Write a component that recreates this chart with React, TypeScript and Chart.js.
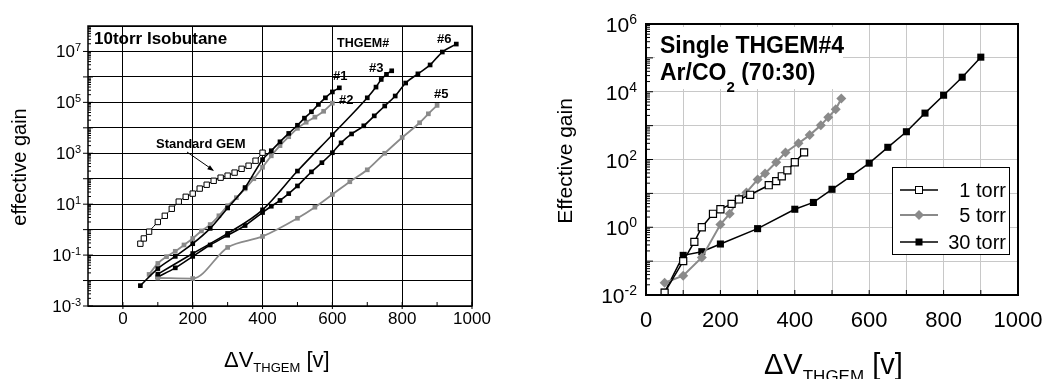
import React, { useEffect, useRef } from "react";
import { Chart, registerables } from "chart.js";
Chart.register(...registerables);

const FONT = '"Liberation Sans", Arial, Helvetica, sans-serif';

// ---------- Left panel (10 torr isobutane) ----------
const gemV = [50, 60, 75, 100, 120, 140, 160, 180, 200, 220, 240, 260, 280, 300, 320, 340, 360, 380, 400];
const gemGain = [0.28, 0.45, 0.83, 2.0, 3.5, 6.6, 12.6, 19.5, 26, 41, 58, 83, 110, 132, 174, 245, 324, 510, 1050];

const th1V = [50, 100, 150, 200, 250, 300, 350, 400, 425, 450, 475, 500, 520, 540, 560, 580, 600, 620];
const th1Gain = [0.0063, 0.0295, 0.089, 0.28, 1.12, 7.1, 45, 562, 1260, 2820, 6030, 12600, 24000, 42700, 83000, 151000, 257000, 372000];

const th2V = [75, 100, 125, 150, 175, 200, 225, 250, 275, 300, 325, 350, 375, 400, 425, 450, 475, 500, 525, 550, 575, 600];
const th2Gain = [0.0174, 0.047, 0.087, 0.141, 0.25, 0.45, 0.89, 1.58, 3.5, 8.7, 18, 40, 100, 282, 794, 2000, 4470, 9550, 16600, 26300, 44700, 93000];

const th3V = [100, 200, 300, 400, 500, 600, 700, 725, 740, 755, 770];
const th3Gain = [0.0178, 0.115, 0.71, 6.0, 200, 5370, 151000, 398000, 794000, 1260000, 1740000];

const th5V = [100, 200, 300, 400, 500, 550, 600, 650, 700, 750, 800, 850, 875, 900];
const th5Gain = [0.0126, 0.012, 0.2, 0.54, 2.8, 7.6, 24, 76, 224, 1000, 4170, 15800, 35500, 76000];

const th6V = [100, 150, 200, 250, 300, 350, 400, 425, 450, 475, 500, 540, 570, 600, 625, 655, 690, 720, 750, 780, 810, 845, 880, 915, 955];
const th6Gain = [0.014, 0.0316, 0.089, 0.25, 0.6, 1.45, 4.7, 8.3, 14, 26, 52, 186, 427, 1050, 2570, 5750, 12000, 29500, 72000, 178000, 575000, 1320000, 2950000, 9500000, 19500000];

const leftXTicks = [0, 200, 400, 600, 800, 1000];
const leftXMinor = [100, 300, 500, 700, 900];
const leftYGrid = [1e-3, 1e-2, 1e-1, 1, 1e1, 1e2, 1e3, 1e4, 1e5, 1e6, 1e7, 1e8];
const leftYLabelVals = [1e-3, 1e-1, 1e1, 1e3, 1e5, 1e7];
const leftYLabelExps = ["-3", "-1", "1", "3", "5", "7"];
const leftSeriesLabels = ["#1", "#2", "#3", "#5", "#6"];

// ---------- Right panel (Single THGEM#4, Ar/CO2) ----------
const t1V = [50, 100, 130, 150, 180, 200, 230, 250, 280, 330, 350, 365, 380, 400, 425];
const t1Gain = [0.0117, 0.1, 0.37, 1.0, 2.5, 3.4, 4.9, 6.6, 9.1, 17.4, 23, 32, 48, 83, 162];

const t5V = [50, 100, 150, 200, 225, 250, 270, 300, 320, 350, 375, 410, 440, 470, 490, 510, 525];
const t5Gain = [0.023, 0.037, 0.129, 1.2, 2.5, 7.1, 10.7, 25.7, 38.9, 83, 162, 302, 525, 1020, 1780, 3020, 6300];

const t30V = [50, 100, 150, 200, 300, 400, 450, 500, 550, 600, 650, 700, 750, 800, 850, 900];
const t30Gain = [0.012, 0.148, 0.19, 0.32, 0.91, 3.4, 5.4, 13.2, 31.6, 78, 229, 660, 2340, 7900, 26900, 105000];

const rightXTicks = [0, 200, 400, 600, 800, 1000];
const rightXGrid = [0, 100, 200, 300, 400, 500, 600, 700, 800, 900, 1000];
const rightYGrid = [1e-2, 1e-1, 1, 1e1, 1e2, 1e3, 1e4, 1e5, 1e6];
const rightYLabelVals = [1e-2, 1, 1e2, 1e4, 1e6];
const rightYLabelExps = ["-2", "0", "2", "4", "6"];
const rightLegend = ["1 torr", "5 torr", "30 torr"];

const GRAY = "#8a8a8a";

type Part = { t: string; s: number; b?: boolean; dy?: number };

function rich(ctx: CanvasRenderingContext2D, x: number, y: number, parts: Part[], align: "left" | "right" | "center" = "left") {
  let total = 0;
  const widths = parts.map((p) => {
    ctx.font = `${p.b ? "bold " : ""}${p.s}px ${FONT}`;
    const w = ctx.measureText(p.t).width;
    total += w;
    return w;
  });
  let cx = align === "right" ? x - total : align === "center" ? x - total / 2 : x;
  ctx.textAlign = "left";
  ctx.textBaseline = "alphabetic";
  parts.forEach((p, i) => {
    ctx.font = `${p.b ? "bold " : ""}${p.s}px ${FONT}`;
    ctx.fillText(p.t, cx, y + (p.dy || 0));
    cx += widths[i];
  });
}

const pts = (xs: number[], ys: number[]) => xs.map((x, i) => ({ x, y: ys[i] }));

function setTicks(vals: number[]) {
  return (s: any) => {
    s.ticks = vals.map((v) => ({ value: v }));
  };
}

function LeftChart() {
  const ref = useRef<HTMLCanvasElement>(null);
  useEffect(() => {
    const W = 520, H = 379;
    const area = { left: 88, right: 472, top: 26, bottom: 306 };
    const blackSeries = (label: string, xs: number[], ys: number[]) => ({
      label, data: pts(xs, ys), borderColor: "#000", backgroundColor: "#000", borderWidth: 1.6,
      pointStyle: "rect", pointRadius: 3.3, pointBackgroundColor: "#000", pointBorderColor: "#000", pointBorderWidth: 0,
      cubicInterpolationMode: "monotone",
    });
    const graySeries = (label: string, xs: number[], ys: number[]) => ({
      label, data: pts(xs, ys), borderColor: GRAY, backgroundColor: GRAY, borderWidth: 1.8,
      pointStyle: "rect", pointRadius: 3.3, pointBackgroundColor: GRAY, pointBorderColor: GRAY, pointBorderWidth: 0,
      cubicInterpolationMode: "monotone",
    });
    const overlay = {
      id: "leftOverlay",
      afterDraw(chart: any) {
        const ctx: CanvasRenderingContext2D = chart.ctx;
        const xs = chart.scales.x, ys = chart.scales.y;
        const ca = chart.chartArea;
        ctx.save();
        ctx.strokeStyle = "#000";
        ctx.lineWidth = 1.5;
        ctx.strokeRect(ca.left, ca.top, ca.right - ca.left, ca.bottom - ca.top);
        ctx.lineWidth = 1;
        for (let d = -3; d < 8; d++) {
          const yy = ys.getPixelForValue(Math.pow(10, d));
          ctx.beginPath(); ctx.moveTo(ca.left - 5, yy); ctx.lineTo(ca.left + 5, yy); ctx.stroke();
          for (let m = 2; m <= 9; m++) {
            const y2 = ys.getPixelForValue(m * Math.pow(10, d));
            ctx.beginPath(); ctx.moveTo(ca.left, y2); ctx.lineTo(ca.left + 3, y2); ctx.stroke();
          }
        }
        leftXTicks.forEach((v) => {
          const xx = xs.getPixelForValue(v);
          ctx.beginPath(); ctx.moveTo(xx, ca.bottom - 4); ctx.lineTo(xx, ca.bottom + 3); ctx.stroke();
        });
        leftXMinor.forEach((v) => {
          const xx = xs.getPixelForValue(v);
          ctx.beginPath(); ctx.moveTo(xx, ca.bottom - 4); ctx.lineTo(xx, ca.bottom); ctx.stroke();
        });
        ctx.fillStyle = "#000";
        ctx.font = `17px ${FONT}`;
        ctx.textAlign = "center";
        ctx.textBaseline = "alphabetic";
        leftXTicks.forEach((v) => ctx.fillText(String(v), xs.getPixelForValue(v), 324));
        leftYLabelVals.forEach((v, i) => {
          const yy = ys.getPixelForValue(v);
          rich(ctx, 81, yy + 6, [{ t: "10", s: 17 }, { t: leftYLabelExps[i], s: 11, dy: -6 }], "right");
        });
        rich(ctx, 224, 367, [{ t: "\u0394V", s: 22 }, { t: "THGEM", s: 13, dy: 5 }, { t: " [v]", s: 22 }]);
        ctx.save();
        ctx.translate(26, 167);
        ctx.rotate(-Math.PI / 2);
        ctx.font = `20px ${FONT}`;
        ctx.textAlign = "center";
        ctx.fillText("effective gain", 0, 0);
        ctx.restore();
        rich(ctx, 94, 44, [{ t: "10torr Isobutane", s: 17, b: true }]);
        rich(ctx, 337, 47, [{ t: "THGEM#", s: 12.5, b: true }]);
        rich(ctx, 156, 148, [{ t: "Standard GEM", s: 13, b: true }]);
        const lp: [number, number][] = [[333, 80], [339, 104], [369, 72], [434, 98], [437, 43]];
        leftSeriesLabels.forEach((l, i) => rich(ctx, lp[i][0], lp[i][1], [{ t: l, s: 13, b: true }]));
        ctx.strokeStyle = "#000";
        ctx.lineWidth = 1;
        ctx.beginPath(); ctx.moveTo(187, 152); ctx.lineTo(213, 170); ctx.stroke();
        const ang = Math.atan2(170 - 152, 213 - 187);
        ctx.beginPath();
        ctx.moveTo(214, 171);
        ctx.lineTo(214 - 7 * Math.cos(ang - 0.35), 171 - 7 * Math.sin(ang - 0.35));
        ctx.lineTo(214 - 7 * Math.cos(ang + 0.35), 171 - 7 * Math.sin(ang + 0.35));
        ctx.closePath(); ctx.fill();
        ctx.restore();
      },
    };
    const chart = new Chart(ref.current!, {
      type: "line",
      data: {
        datasets: [
          {
            label: "Standard GEM", data: pts(gemV, gemGain), borderColor: "#000", borderWidth: 1,
            pointStyle: "rect", pointRadius: 3.8, pointBackgroundColor: "#fff", pointBorderColor: "#000", pointBorderWidth: 1,
            cubicInterpolationMode: "monotone",
          },
          blackSeries("#1", th1V, th1Gain),
          graySeries("#2", th2V, th2Gain),
          blackSeries("#3", th3V, th3Gain),
          graySeries("#5", th5V, th5Gain),
          blackSeries("#6", th6V, th6Gain),
        ] as any,
      },
      options: {
        animation: false, responsive: false, maintainAspectRatio: false,
        layout: { padding: { left: 0, top: area.top, right: W - area.right, bottom: 0 } },
        plugins: { legend: { display: false }, tooltip: { enabled: false } },
        scales: {
          x: {
            type: "linear", min: -100, max: 1000,
            afterBuildTicks: setTicks(leftXTicks),
            ticks: { display: false }, grid: { color: "#000", lineWidth: 1, drawTicks: false }, border: { display: false },
            afterFit: (s: any) => { s.height = H - area.bottom; },
          },
          y: {
            type: "logarithmic", min: 1e-3, max: 1e8,
            afterBuildTicks: setTicks(leftYGrid),
            ticks: { display: false }, grid: { color: "#000", lineWidth: 1, drawTicks: false }, border: { display: false },
            afterFit: (s: any) => { s.width = area.left; },
          },
        },
      } as any,
      plugins: [overlay],
    });
    return () => chart.destroy();
  }, []);
  return <canvas ref={ref} width={520} height={379} style={{ position: "absolute", left: 0, top: 0, width: 520, height: 379 }} />;
}

function RightChart() {
  const ref = useRef<HTMLCanvasElement>(null);
  useEffect(() => {
    const W = 528, H = 379;
    const area = { left: 126, right: 498, top: 24, bottom: 295 };
    const overlay = {
      id: "rightOverlay",
      beforeDatasetsDraw(chart: any) {
        const ctx: CanvasRenderingContext2D = chart.ctx;
        ctx.save();
        ctx.fillStyle = "#fff";
        ctx.fillRect(135, 27, 188, 62);
        ctx.restore();
      },
      afterDraw(chart: any) {
        const ctx: CanvasRenderingContext2D = chart.ctx;
        const xs = chart.scales.x, ys = chart.scales.y;
        const ca = chart.chartArea;
        ctx.save();
        ctx.strokeStyle = "#000";
        ctx.lineWidth = 2;
        ctx.strokeRect(ca.left, ca.top, ca.right - ca.left, ca.bottom - ca.top);
        ctx.lineWidth = 1;
        for (let d = -2; d < 6; d++) {
          const yy = ys.getPixelForValue(Math.pow(10, d));
          ctx.beginPath(); ctx.moveTo(ca.left, yy); ctx.lineTo(ca.left + 7, yy); ctx.stroke();
          for (let m = 2; m <= 9; m++) {
            const y2 = ys.getPixelForValue(m * Math.pow(10, d));
            ctx.beginPath(); ctx.moveTo(ca.left, y2); ctx.lineTo(ca.left + 4, y2); ctx.stroke();
          }
        }
        rightXGrid.forEach((v) => {
          const xx = xs.getPixelForValue(v);
          ctx.beginPath(); ctx.moveTo(xx, ca.bottom - 5); ctx.lineTo(xx, ca.bottom); ctx.stroke();
        });
        ctx.fillStyle = "#000";
        ctx.font = `22px ${FONT}`;
        ctx.textAlign = "center";
        ctx.textBaseline = "alphabetic";
        rightXTicks.forEach((v) => ctx.fillText(String(v), xs.getPixelForValue(v), 327));
        rightYLabelVals.forEach((v, i) => {
          const yy = ys.getPixelForValue(v);
          rich(ctx, 117, yy + 8, [{ t: "10", s: 21 }, { t: rightYLabelExps[i], s: 14, dy: -8 }], "right");
        });
        rich(ctx, 244, 374, [{ t: "\u0394V", s: 29 }, { t: "THGEM", s: 17, dy: 8 }, { t: " [v]", s: 29 }]);
        ctx.save();
        ctx.translate(52, 161);
        ctx.rotate(-Math.PI / 2);
        ctx.font = `21px ${FONT}`;
        ctx.textAlign = "center";
        ctx.fillText("Effective gain", 0, 0);
        ctx.restore();
        rich(ctx, 140, 53, [{ t: "Single THGEM#4", s: 23, b: true }]);
        rich(ctx, 140, 80, [{ t: "Ar/CO", s: 23, b: true }, { t: "2", s: 15, b: true, dy: 12 }, { t: " (70:30)", s: 23, b: true }]);
        const lx = 372, ly = 167, lw = 117, lh = 87;
        ctx.fillStyle = "#fff";
        ctx.fillRect(lx, ly, lw, lh);
        ctx.strokeStyle = "#000";
        ctx.lineWidth = 1;
        ctx.strokeRect(lx + 0.5, ly + 0.5, lw, lh);
        const rows = [190, 215, 242];
        const cols = ["#000", GRAY, "#000"];
        rows.forEach((ry, i) => {
          ctx.strokeStyle = cols[i];
          ctx.lineWidth = i === 1 ? 2 : 1.5;
          ctx.beginPath(); ctx.moveTo(380, ry); ctx.lineTo(418, ry); ctx.stroke();
          const cx = 399;
          if (i === 0) {
            ctx.fillStyle = "#fff"; ctx.fillRect(cx - 3.5, ry - 3.5, 7, 7);
            ctx.strokeStyle = "#000"; ctx.lineWidth = 1; ctx.strokeRect(cx - 3.5, ry - 3.5, 7, 7);
          } else if (i === 1) {
            ctx.fillStyle = GRAY;
            ctx.beginPath(); ctx.moveTo(cx, ry - 5); ctx.lineTo(cx + 5, ry); ctx.lineTo(cx, ry + 5); ctx.lineTo(cx - 5, ry); ctx.closePath(); ctx.fill();
          } else {
            ctx.fillStyle = "#000"; ctx.fillRect(cx - 3.5, ry - 3.5, 7, 7);
          }
          ctx.fillStyle = "#000";
          rich(ctx, 486, ry + 7, [{ t: rightLegend[i], s: 20 }], "right");
        });
        ctx.restore();
      },
    };
    const chart = new Chart(ref.current!, {
      type: "line",
      data: {
        datasets: [
          {
            label: "1 torr", data: pts(t1V, t1Gain), borderColor: "#000", borderWidth: 1.5,
            pointStyle: "rect", pointRadius: 5, pointBackgroundColor: "#fff", pointBorderColor: "#000", pointBorderWidth: 1.2,
          },
          {
            label: "5 torr", data: pts(t5V, t5Gain), borderColor: GRAY, borderWidth: 2,
            pointStyle: "rectRot", pointRadius: 5, pointBackgroundColor: GRAY, pointBorderColor: GRAY, pointBorderWidth: 0,
          },
          {
            label: "30 torr", data: pts(t30V, t30Gain), borderColor: "#000", borderWidth: 1.5,
            pointStyle: "rect", pointRadius: 5, pointBackgroundColor: "#000", pointBorderColor: "#000", pointBorderWidth: 0,
          },
        ] as any,
      },
      options: {
        animation: false, responsive: false, maintainAspectRatio: false,
        layout: { padding: { left: 0, top: area.top, right: W - area.right, bottom: 0 } },
        plugins: { legend: { display: false }, tooltip: { enabled: false } },
        elements: { line: { tension: 0 } },
        scales: {
          x: {
            type: "linear", min: 0, max: 1000,
            afterBuildTicks: setTicks(rightXGrid),
            ticks: { display: false }, grid: { color: "#c8c8c8", lineWidth: 1, drawTicks: false }, border: { display: false },
            afterFit: (s: any) => { s.height = H - area.bottom; },
          },
          y: {
            type: "logarithmic", min: 1e-2, max: 1e6,
            afterBuildTicks: setTicks(rightYGrid),
            ticks: { display: false }, grid: { color: "#c8c8c8", lineWidth: 1, drawTicks: false }, border: { display: false },
            afterFit: (s: any) => { s.width = area.left; },
          },
        },
      } as any,
      plugins: [overlay],
    });
    return () => chart.destroy();
  }, []);
  return <canvas ref={ref} width={528} height={379} style={{ position: "absolute", left: 520, top: 0, width: 528, height: 379 }} />;
}

export default function App() {
  return (
    <div style={{ position: "absolute", left: 0, top: 0, width: 1048, height: 379, background: "#fff", overflow: "hidden" }}>
      <LeftChart />
      <RightChart />
    </div>
  );
}
